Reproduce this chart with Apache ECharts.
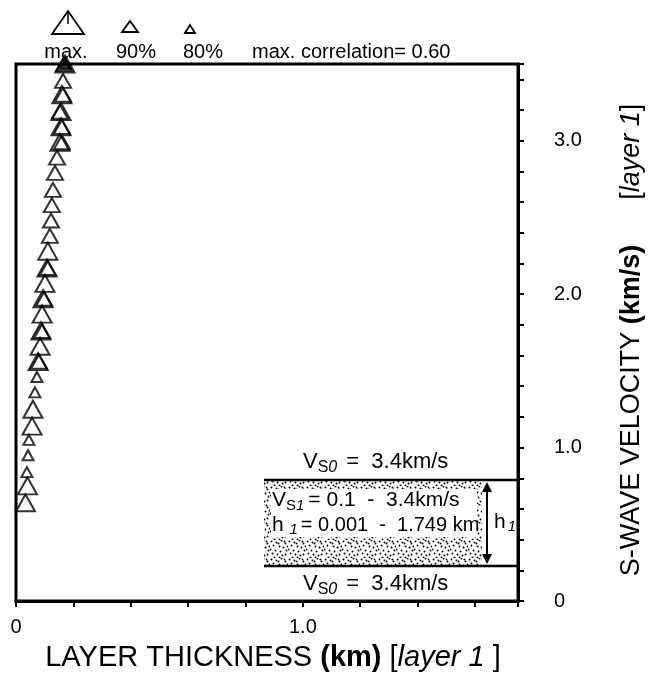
<!DOCTYPE html>
<html>
<head>
<meta charset="utf-8">
<script src="https://cdn.jsdelivr.net/npm/echarts@6/dist/echarts.min.js"></script>
<style>
  html, body { margin: 0; padding: 0; background: #fff; }
  #chart { width: 663px; height: 684px; }
</style>
</head>
<body>
<div id="chart"></div>
<script>
// Best-fitting layer-1 thickness for each trial S-wave velocity.
// Symbol size shows the correlation level: max., 90 %, 80 %.
const velMax = [3.50, 3.30, 3.19, 3.09, 2.99, 2.28, 2.17, 2.07, 1.97, 1.87, 1.76, 1.66, 1.56, 1.25, 1.14, 0.75, 0.64];
const thkMax = [0.171, 0.160, 0.157, 0.157, 0.153, 0.111, 0.108, 0.101, 0.094, 0.091, 0.087, 0.084, 0.077, 0.059, 0.056, 0.040, 0.033];

const vel90 = [3.39, 2.89, 2.79, 2.68, 2.58, 2.48, 2.38, 3.50, 3.30, 3.19, 3.09, 2.99, 2.17, 1.97, 1.76, 1.56];
const thk90 = [0.164, 0.143, 0.136, 0.129, 0.125, 0.122, 0.118, 0.167, 0.164, 0.153, 0.160, 0.160, 0.111, 0.098, 0.091, 0.080];

const vel80 = [3.50, 1.46, 1.36, 1.05, 0.95, 0.84];
const thk80 = [0.171, 0.073, 0.066, 0.045, 0.042, 0.038];

// Axis ranges and tick labels
const xRange = [0, 1.75];
const yRange = [0, 3.5];
const xTickLabels = { '0': '0', '1': '1.0' };
const yTickLabels = { '0': '0', '1': '1.0', '2': '2.0', '3': '3.0' };

const FONT = '"Liberation Sans", Arial, Helvetica, sans-serif';

function pairs(xs, ys) { return xs.map((x, i) => [x, ys[i]]); }

function tickLabel(table) {
  return function (v) {
    const r = Math.round(v);
    if (Math.abs(v - r) < 1e-6 && table[String(r)] !== undefined) return table[String(r)];
    return '';
  };
}

// stipple pattern for the layer box
function stipple() {
  const c = document.createElement('canvas');
  c.width = 18; c.height = 18;
  const g = c.getContext('2d');
  g.fillStyle = '#fff'; g.fillRect(0, 0, 18, 18);
  g.fillStyle = '#000';
  const dots = [[1,1],[6,2],[11,0],[15,3],[3,5],[9,6],[13,7],[0,9],[5,10],[10,11],[16,10],
                [2,13],[7,14],[12,15],[15,14],[4,17],[9,17],[14,1],[8,3],[17,6]];
  dots.forEach(d => { g.beginPath(); g.arc(d[0] + 0.5, d[1] + 0.5, 0.95, 0, Math.PI * 2); g.fill(); });
  return c;
}

// text made of runs (used for subscripts)
const meas = document.createElement('canvas').getContext('2d');
function runText(x, y, runs) {
  const out = [];
  let cx = x;
  runs.forEach(r => {
    const size = r.size || 21;
    const style = r.italic ? 'italic ' : '';
    meas.font = style + size + 'px ' + FONT;
    out.push({
      type: 'text', x: cx, y: y + (r.dy || 0),
      style: { text: r.t, fill: '#000', font: style + size + 'px ' + FONT, textVerticalAlign: 'middle', textAlign: 'left' }
    });
    cx += meas.measureText(r.t).width + (r.gap || 0);
  });
  return out;
}

const chart = echarts.init(document.getElementById('chart'), null, { renderer: 'canvas' });

const triStyle = { color: 'rgba(0,0,0,0)', borderColor: '#000', borderWidth: 2 };

const graphics = [];
// legend: symbol sizes above their labels
graphics.push({ type: 'polygon', shape: { points: [[52, 34], [68, 11], [84, 34]] }, style: { fill: 'none', stroke: '#000', lineWidth: 1.8 } });
graphics.push({ type: 'line', shape: { x1: 68, y1: 12, x2: 68, y2: 24 }, style: { stroke: '#000', lineWidth: 1.5 } });
graphics.push({ type: 'polygon', shape: { points: [[122, 32], [130, 21], [138, 32]] }, style: { fill: 'none', stroke: '#000', lineWidth: 1.8 } });
graphics.push({ type: 'polygon', shape: { points: [[185, 33], [190, 25], [195, 33]] }, style: { fill: 'none', stroke: '#000', lineWidth: 1.8 } });
[['max.', 66], ['90%', 136], ['80%', 203]].forEach(p => {
  graphics.push({ type: 'text', x: p[1], y: 52, style: { text: p[0], fill: '#000', font: '20px ' + FONT, textAlign: 'center', textVerticalAlign: 'middle' } });
});
graphics.push({ type: 'text', x: 252, y: 52, style: { text: 'max. correlation= 0.60', fill: '#000', font: '20px ' + FONT, textAlign: 'left', textVerticalAlign: 'middle' } });

// layer model sketch
graphics.push({ type: 'rect', shape: { x: 264, y: 481, width: 218, height: 84 }, style: { fill: { image: stipple(), repeat: 'repeat' } }, z: 1 });
graphics.push({ type: 'rect', shape: { x: 271, y: 489, width: 206, height: 48 }, style: { fill: '#fff' }, z: 2 });
graphics.push({ type: 'line', shape: { x1: 264, y1: 480, x2: 518, y2: 480 }, style: { stroke: '#000', lineWidth: 2.5 }, z: 3 });
graphics.push({ type: 'line', shape: { x1: 264, y1: 566, x2: 518, y2: 566 }, style: { stroke: '#000', lineWidth: 2.5 }, z: 3 });
graphics.push({ type: 'line', shape: { x1: 487, y1: 490, x2: 487, y2: 556 }, style: { stroke: '#000', lineWidth: 2 }, z: 3 });
graphics.push({ type: 'polygon', shape: { points: [[482, 492], [487, 482], [492, 492]] }, style: { fill: '#000' }, z: 3 });
graphics.push({ type: 'polygon', shape: { points: [[482, 554], [487, 564], [492, 554]] }, style: { fill: '#000' }, z: 3 });

const labelRuns = [
  [303, 462, [{ t: 'V', size: 22 }, { t: 'S', size: 16, dy: 6 }, { t: '0', size: 16, dy: 6, italic: true, gap: 9 }, { t: '=  3.4km/s', size: 22 }]],
  [303, 584, [{ t: 'V', size: 22 }, { t: 'S', size: 16, dy: 6 }, { t: '0', size: 16, dy: 6, italic: true, gap: 9 }, { t: '=  3.4km/s', size: 22 }]],
  [272, 500, [{ t: 'V', size: 21 }, { t: 'S', size: 15, dy: 6 }, { t: '1', size: 15, dy: 6, italic: true, gap: 4 }, { t: '= 0.1  -  3.4km/s', size: 21 }]],
  [272, 525, [{ t: 'h ', size: 21 }, { t: '1', size: 15, dy: 5, italic: true, gap: 3 }, { t: '= 0.001  -  1.749 km', size: 20 }]],
  [494, 522, [{ t: 'h', size: 21, gap: 2 }, { t: '1', size: 15, dy: 5, italic: true }]]
];
labelRuns.forEach(l => runText(l[0], l[1], l[2]).forEach(t => { t.z = 4; graphics.push(t); }));

chart.setOption({
  animation: false,
  backgroundColor: '#fff',
  textStyle: { fontFamily: FONT, color: '#000' },
  grid: { left: 16, right: 145, top: 64, bottom: 83, show: true, borderColor: '#000', borderWidth: 3, backgroundColor: 'transparent' },
  xAxis: {
    type: 'value', min: xRange[0], max: xRange[1], interval: 0.2,
    splitLine: { show: false },
    axisLine: { onZero: false, lineStyle: { color: '#000', width: 3 } },
    axisTick: { length: 6, lineStyle: { color: '#000', width: 2 } },
    axisLabel: { color: '#000', fontSize: 20, margin: 16, formatter: tickLabel(xTickLabels), showMaxLabel: true },
    name: '{a|LAYER THICKNESS }{b|(km)}{a| [}{c|layer 1 }{a|]}',
    nameLocation: 'middle', nameGap: 42,
    nameTextStyle: {
      padding: [0, 0, 0, 12],
      rich: {
        a: { fontSize: 29, color: '#000', fontFamily: FONT },
        b: { fontSize: 29, color: '#000', fontFamily: FONT, fontWeight: 'bold' },
        c: { fontSize: 29, color: '#000', fontFamily: FONT, fontStyle: 'italic' }
      }
    }
  },
  yAxis: {
    type: 'value', position: 'right', min: yRange[0], max: yRange[1], interval: 0.2,
    splitLine: { show: false },
    axisLine: { onZero: false, lineStyle: { color: '#000', width: 3 } },
    axisTick: { length: 6, lineStyle: { color: '#000', width: 2 } },
    axisLabel: { color: '#000', fontSize: 20, margin: 36, formatter: tickLabel(yTickLabels) },
    name: '{a|S-WAVE VELOCITY }{b|(km/s)}{a|      [}{c|layer 1}{a|]  }',
    nameLocation: 'middle', nameRotate: 90, nameGap: 100,
    nameTextStyle: {
      rich: {
        a: { fontSize: 27, color: '#000', fontFamily: FONT },
        b: { fontSize: 27, color: '#000', fontFamily: FONT, fontWeight: 'bold' },
        c: { fontSize: 27, color: '#000', fontFamily: FONT, fontStyle: 'italic' }
      }
    }
  },
  series: [
    { name: 'max.', type: 'scatter', symbol: 'triangle', symbolSize: [19, 17], itemStyle: triStyle, data: pairs(thkMax, velMax), z: 3 },
    { name: '90%', type: 'scatter', symbol: 'triangle', symbolSize: [16, 14], itemStyle: triStyle, data: pairs(thk90, vel90), z: 3 },
    {
      name: '80%', type: 'scatter', symbol: 'triangle', symbolSize: [11, 10], itemStyle: triStyle, z: 4,
      data: pairs(thk80, vel80).map((p, i) => i === 0 ? { value: p, itemStyle: { color: '#000' } } : p)
    }
  ],
  graphic: graphics
});
</script>
</body>
</html>
